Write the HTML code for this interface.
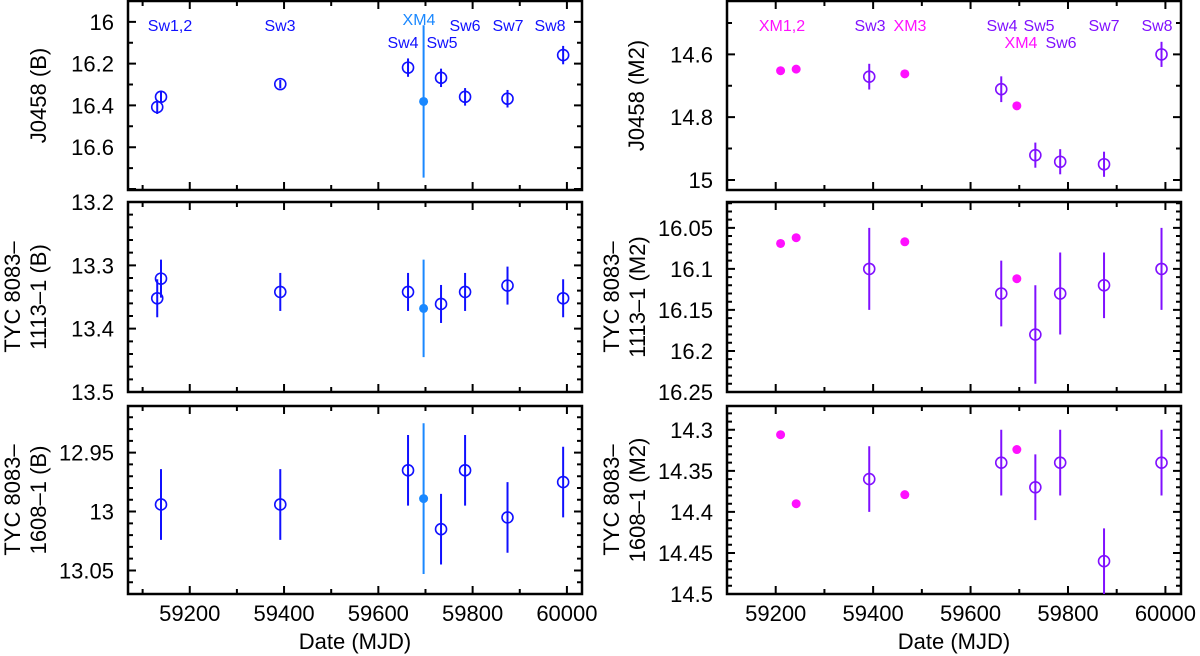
<!DOCTYPE html>
<html><head><meta charset="utf-8"><style>
html,body{margin:0;padding:0;background:#fff;}
svg{display:block;font-family:"Liberation Sans",sans-serif;}
</style></head><body>
<svg id="chart" width="1200" height="656" viewBox="0 0 1200 656" xmlns="http://www.w3.org/2000/svg"></svg>
<script>
const swDays = [59131, 59139, 59392, 59663, 59733, 59784, 59874, 59992];
const xmDays = [59210, 59242, 59465, 59695];
const xTicksMajor = [59200, 59400, 59600, 59800, 60000];
const xTickLabels = ["59200", "59400", "59600", "59800", "60000"];

const p1B = [16.408, 16.359, 16.298, 16.219, 16.268, 16.359, 16.368, 16.159];
const p1Berr = [0.033, 0.03, 0.02, 0.044, 0.044, 0.042, 0.042, 0.044];
const p1Bxm = [16.381];
const p1BxmErr = [0.365];

const p2B = [13.352, 13.321, 13.342, 13.342, 13.361, 13.342, 13.332, 13.352];
const p2Berr = [0.03, 0.03, 0.03, 0.03, 0.03, 0.03, 0.03, 0.03];
const p2Bxm = [13.368];
const p2BxmErr = [0.077];

const p3B = [12.994, 12.994, 12.965, 13.015, 12.965, 13.005, 12.975];
const p3Bdays = [59139, 59392, 59663, 59733, 59784, 59874, 59992];
const p3Berr = [0.03, 0.03, 0.03, 0.03, 0.03, 0.03, 0.03];
const p3Bxm = [12.989];
const p3BxmErr = [0.064];

const m2Days = [59392, 59663, 59733, 59784, 59874, 59992];
const p1M = [14.671, 14.711, 14.921, 14.942, 14.950, 14.600];
const p1Merr = [0.041, 0.041, 0.04, 0.04, 0.04, 0.04];
const p1Mxm = [14.652, 14.647, 14.662, 14.764];
const p1MxmErr = [0.003, 0.003, 0.003, 0.003];

const p2M = [16.10, 16.13, 16.18, 16.13, 16.12, 16.10];
const p2Merr = [0.05, 0.04, 0.06, 0.05, 0.04, 0.05];
const p2Mxm = [16.069, 16.062, 16.067, 16.112];
const p2MxmErr = [0.003, 0.004, 0.004, 0.003];

const p3M = [14.36, 14.34, 14.37, 14.34, 14.46, 14.34];
const p3Merr = [0.04, 0.04, 0.04, 0.04, 0.04, 0.04];
const p3Mxm = [14.306, 14.390, 14.379, 14.324];
const p3MxmErr = [0.001, 0.001, 0.001, 0.001];

const NS = "http://www.w3.org/2000/svg";
const svg = document.getElementById("chart");
function mk(tag, attrs, parent) {
  const e = document.createElementNS(NS, tag);
  for (const k in attrs) e.setAttribute(k, attrs[k]);
  (parent || svg).appendChild(e);
  return e;
}

const BLUE = "#1010ff", LBLUE = "#1a88ff", PURP = "#8010ff", MAG = "#ff10ff";

function panel(o) {
  const g = mk("g", {});
  
  
  const xs = d => o.x0 + (d - o.d0) / (o.d1 - o.d0) * (o.x1 - o.x0);
  const ys = v => o.y0 + (v - o.v0) / (o.v1 - o.v0) * (o.y1 - o.y0);
  let path = "";
  for (let d = Math.ceil(o.d0 / 100) * 100; d <= o.d1; d += 100) {
    const x = xs(d), L = (d % 200 === 0) ? 8 : 5;
    path += `M${x},${o.y1}v${-L}M${x},${o.y0}v${L}`;
  }
  const start = Math.ceil(o.v0 / o.minor - 1e-6);
  for (let i = start; i * o.minor <= o.v1 + 1e-9; i++) {
    const v = i * o.minor, y = ys(v);
    const isMaj = Math.abs(v / o.major - Math.round(v / o.major)) < 1e-6;
    const L = isMaj ? 8 : 5;
    path += `M${o.x0},${y}h${L}M${o.x1},${y}h${-L}`;
  }
  const t = mk("path", {d: path, stroke: "#000", "stroke-width": 2, fill: "none"}, g);
  
  
  const fr = mk("rect", {x: o.x0, y: o.y0, width: o.x1 - o.x0, height: o.y1 - o.y0, fill: "none", stroke: "#000", "stroke-width": 2.5}, g);
  
  
  o.labels.forEach(v => {
    const tx = mk("text", {x: o.x0 - 14, y: ys(v) + 8, "text-anchor": "end", "font-size": 22}, g);
    tx.textContent = String(v);
    
    
  });
  if (o.xlabels) {
    xTicksMajor.forEach((d, i) => {
      const tx = mk("text", {x: xs(d), y: o.y1 + 27, "text-anchor": "middle", "font-size": 22}, g);
      tx.textContent = xTickLabels[i];
      
      
    });
    const xt = mk("text", {x: (o.x0 + o.x1) / 2, y: o.y1 + 55, "text-anchor": "middle", "font-size": 22}, g);
    xt.textContent = "Date (MJD)";
    
    
  }
  const cy = (o.y0 + o.y1) / 2;
  o.title.forEach((line, i) => {
    const cx = o.titleX[i];
    const tx = mk("text", {x: cx, y: cy, "text-anchor": "middle", "font-size": 22, transform: `rotate(-90 ${cx} ${cy}) translate(0 8)`}, g);
    tx.textContent = line;
    
    
  });
  o.series.forEach(s => {
    s.vals.forEach((v, i) => {
      const x = xs(s.days[i]), y = ys(v);
      const e = s.errs[i];
      if (e > 0.0015) {
        const l = mk("line", {x1: x, x2: x, y1: ys(v - e), y2: ys(v + e), stroke: s.color, "stroke-width": 2}, g);
        
        
      }
      const c = s.filled
        ? mk("circle", {cx: x, cy: y, r: 4.5, fill: s.color}, g)
        : mk("circle", {cx: x, cy: y, r: 5.5, fill: "none", stroke: s.color, "stroke-width": 1.6}, g);
      
      
    });
  });
}

const L = {x0: 128, x1: 582, d0: 59069, d1: 60032};
const R = {x0: 727, x1: 1181, d0: 59100, d1: 60032};
const P1 = {y0: 1, y1: 190}, P2 = {y0: 202, y1: 392}, P3 = {y0: 406, y1: 594};

panel(Object.assign({name: "panel-j0458-b", v0: 15.90, v1: 16.805, minor: 0.1, major: 0.2, labels: [16, 16.2, 16.4, 16.6], title: ["J0458 (B)"], titleX: [38],
  series: [{days: swDays, vals: p1B, errs: p1Berr, color: BLUE}, {days: [59696], vals: p1Bxm, errs: p1BxmErr, color: LBLUE, filled: true}]}, L, P1));
panel(Object.assign({name: "panel-tyc1113-b", v0: 13.2, v1: 13.5, minor: 0.02, major: 0.1, labels: [13.2, 13.3, 13.4, 13.5], title: ["TYC 8083–", "1113–1 (B)"], titleX: [12, 38],
  series: [{days: swDays, vals: p2B, errs: p2Berr, color: BLUE}, {days: [59696], vals: p2Bxm, errs: p2BxmErr, color: LBLUE, filled: true}]}, L, P2));
panel(Object.assign({name: "panel-tyc1608-b", v0: 12.9104, v1: 13.07, minor: 0.01, major: 0.05, labels: ["12.95", "13", "13.05"], title: ["TYC 8083–", "1608–1 (B)"], titleX: [12, 38], xlabels: true,
  series: [{days: p3Bdays, vals: p3B, errs: p3Berr, color: BLUE}, {days: [59696], vals: p3Bxm, errs: p3BxmErr, color: LBLUE, filled: true}]}, L, P3));

panel(Object.assign({name: "panel-j0458-m2", v0: 14.43, v1: 15.032, minor: 0.1, major: 0.2, labels: ["14.6", "14.8", "15"], title: ["J0458 (M2)"], titleX: [636],
  series: [{days: m2Days, vals: p1M, errs: p1Merr, color: PURP}, {days: xmDays, vals: p1Mxm, errs: p1MxmErr, color: MAG, filled: true}]}, R, P1));
panel(Object.assign({name: "panel-tyc1113-m2", v0: 16.0185, v1: 16.25, minor: 0.01, major: 0.05, labels: ["16.05", "16.1", "16.15", "16.2", "16.25"], title: ["TYC 8083–", "1113–1 (M2)"], titleX: [611, 637],
  series: [{days: m2Days, vals: p2M, errs: p2Merr, color: PURP}, {days: xmDays, vals: p2Mxm, errs: p2MxmErr, color: MAG, filled: true}]}, R, P2));
panel(Object.assign({name: "panel-tyc1608-m2", v0: 14.271, v1: 14.5, minor: 0.01, major: 0.05, labels: ["14.3", "14.35", "14.4", "14.45", "14.5"], title: ["TYC 8083–", "1608–1 (M2)"], titleX: [611, 637], xlabels: true,
  series: [{days: m2Days, vals: p3M, errs: p3Merr, color: PURP}, {days: xmDays, vals: p3Mxm, errs: p3MxmErr, color: MAG, filled: true}]}, R, P3));

const obsLabels = [
  ["Sw1,2", 170, 31, BLUE], ["Sw3", 280, 31, BLUE], ["XM4", 419, 25, LBLUE], ["Sw4", 403, 48, BLUE], ["Sw5", 442, 48, BLUE],
  ["Sw6", 465, 31, BLUE], ["Sw7", 508, 31, BLUE], ["Sw8", 550, 31, BLUE],
  ["XM1,2", 782, 31, MAG], ["Sw3", 870, 31, PURP], ["XM3", 910, 31, MAG], ["Sw4", 1002, 31, PURP], ["Sw5", 1039, 31, PURP],
  ["XM4", 1021, 48, MAG], ["Sw6", 1061, 48, PURP], ["Sw7", 1104, 31, PURP], ["Sw8", 1157, 31, PURP]
];
obsLabels.forEach(a => {
  const t = mk("text", {x: a[1], y: a[2], "text-anchor": "middle", "font-size": 16, fill: a[3]});
  t.textContent = a[0];
  
  
});
</script>
</body></html>
